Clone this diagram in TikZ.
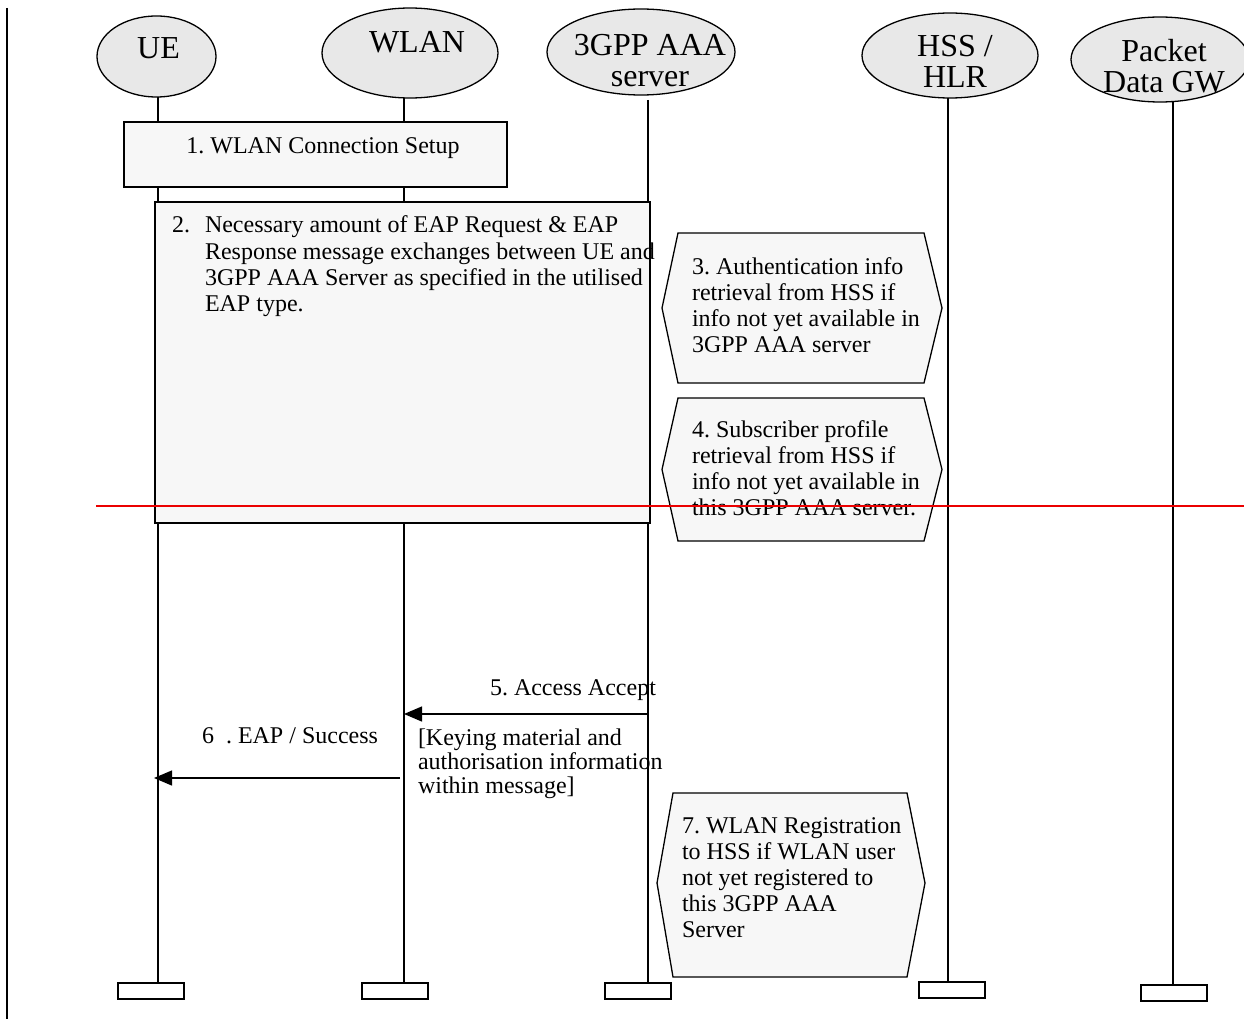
\documentclass[tikz,border=0pt]{standalone}
\usepackage{fontspec}
\setmainfont{Liberation Serif}
\usetikzlibrary{arrows.meta,shapes.geometric}
\definecolor{actorgray}{RGB}{232,232,232}
\definecolor{boxgray}{RGB}{247,247,247}
\definecolor{cutred}{RGB}{235,0,0}
\frenchspacing
% lines of text stacked with the first baseline as reference
\newcommand\stacked[2][l]{\begin{tabular}[t]{@{}#1@{}}#2\end{tabular}}
\begin{document}
\begin{tikzpicture}[x=1pt,y=-1pt,
  every node/.style={inner sep=0pt, outer sep=0pt},
  actor/.style={ellipse, draw, fill=actorgray, line width=1.3pt},
  actorlabel/.style={anchor=base, font=\fontsize{32}{31}\selectfont},
  lifeline/.style={line width=1.3pt},
  endbox/.style={draw, fill=white, line width=1.3pt, anchor=north west,
    minimum width=66, minimum height=16},
  stepbox/.style={draw, fill=boxgray, line width=1.3pt, anchor=north west},
  hexa/.style={draw, fill=boxgray, line width=1.3pt},
  body/.style={anchor=base west, font=\fontsize{24}{26}\selectfont},
  msg/.style={line width=1.3pt, -{Triangle[length=18pt,width=15pt]}},
]
\useasboundingbox (0,0) rectangle (1244,1019);

% frame line on the left
\coordinate (frame-top) at (7,8);
\coordinate (frame-bot) at (7,1019);
\draw[line width=2pt] (frame-top) -- (frame-bot);

% lifeline end boxes
\node[endbox] (ue-end)   at (118,983) {};
\node[endbox] (wlan-end) at (362,983) {};
\node[endbox] (aaa-end)  at (605,983) {};
\node[endbox] (hss-end)  at (919,982) {};
\node[endbox] (gw-end)   at (1141,985) {};

% lifelines
\coordinate (ue-top)   at (158,97);
\coordinate (wlan-top) at (404,98);
\coordinate (aaa-top)  at (648,100);
\coordinate (hss-top)  at (948,98);
\coordinate (gw-top)   at (1173,102);
\draw[lifeline] (ue-top)   -- (ue-top   |- ue-end.north);
\draw[lifeline] (wlan-top) -- (wlan-top |- wlan-end.north);
\draw[lifeline] (aaa-top)  -- (aaa-top  |- aaa-end.north);
\draw[lifeline] (hss-top)  -- (hss-top  |- hss-end.north);
\draw[lifeline] (gw-top)   -- (gw-top   |- gw-end.north);

% actors
\node[actor, minimum width=119, minimum height=81] (ue)   at (156.5,56.5) {};
\node[actor, minimum width=176, minimum height=90] (wlan) at (410,53) {};
\node[actor, minimum width=188, minimum height=86] (aaa)  at (641,52) {};
\node[actor, minimum width=176, minimum height=85] (hss)  at (950,55.5) {};
\node[actor, minimum width=178, minimum height=85] (gw)   at (1160,59.5) {};
\node[actorlabel] (ue-label)   at (158.5,59) {UE};
\node[actorlabel] (wlan-label) at (417,53) {WLAN};
\node[actorlabel] (aaa-label)  at (650,56) {\stacked[c]{3GPP AAA\\server}};
\node[actorlabel] (hss-label)  at (955,57) {\stacked[c]{HSS /\\HLR}};
\node[actorlabel] (gw-label)   at (1164,62) {\stacked[c]{Packet\\Data GW}};

% step 1
\node[stepbox, minimum width=383, minimum height=65] (setup) at (124,122) {};
\node[anchor=base, font=\fontsize{24}{26}\selectfont] (setup-text) at (323,154)
  {1. WLAN Connection Setup};

% step 2
\node[stepbox, minimum width=495, minimum height=321] (eap) at (155,202) {};
\node[body] (eap-num) at (172,233) {2.};
\node[body] (eap-text) at (205,233) {\stacked{Necessary amount of EAP Request \& EAP\\
  Response message exchanges between UE and\\
  3GPP AAA Server as specified in the utilised\\
  EAP type.}};

% steps 3 and 4
\draw[hexa] (678,233) -- (924,233) -- (942,308) -- (924,383) -- (678,383) -- (662,308) -- cycle;
\node[body] (auth-text) at (692,274) {\stacked{3. Authentication info\\
  retrieval from HSS if\\info not yet available in\\3GPP AAA server}};
\draw[hexa] (678,398) -- (924,398) -- (942,469.5) -- (924,541) -- (678,541) -- (662,469.5) -- cycle;
\node[body] (prof-text) at (692,437) {\stacked{4. Subscriber profile\\
  retrieval from HSS if\\info not yet available in\\this 3GPP AAA server.}};

% step 5: Access Accept
\coordinate (aaa-m5)  at (648,714);
\coordinate (wlan-m5) at (404,714);
\draw[msg] (aaa-m5) -- (wlan-m5);
\node[body] (m5-label) at (490,695) {5. Access Accept};
\node[anchor=base west, font=\fontsize{24}{24}\selectfont] (m5-note) at (418,745)
  {\stacked{[Keying material and\\authorisation information\\within message]}};

% step 6: EAP Success
\coordinate (wlan-m6) at (400,778);
\coordinate (ue-m6)   at (154,778);
\draw[msg] (wlan-m6) -- (ue-m6);
\node[body] (m6-label) at (202,743) {6\ \ . EAP / Success};

% step 7
\draw[hexa] (673,793) -- (907,793) -- (925,883) -- (907,977) -- (673,977) -- (657,883) -- cycle;
\node[body] (reg-text) at (682,833) {\stacked{7. WLAN Registration\\
  to HSS if WLAN user\\not yet registered to\\this 3GPP AAA\\Server}};

% cut line
\coordinate (cut-l) at (96,506);
\coordinate (cut-r) at (1244,506);
\draw[cutred, line width=1.5pt] (cut-l) -- (cut-r);
\end{tikzpicture}
\end{document}
